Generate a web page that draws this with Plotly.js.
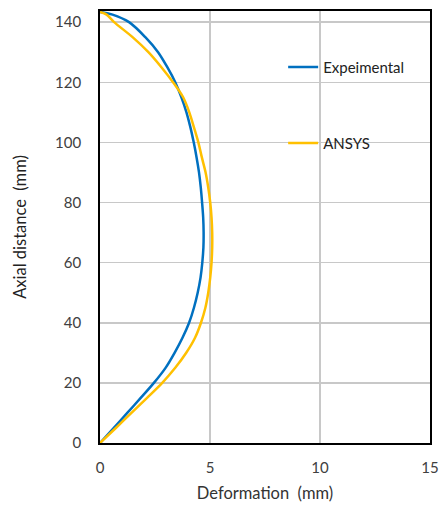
<!DOCTYPE html>
<html>
<head>
<meta charset="utf-8">
<script src="https://cdn.plot.ly/plotly-3.0.1.min.js"></script>
<style>html,body{margin:0;padding:0;background:#fff;}#chart{width:440px;height:507px;}</style>
</head>
<body>
<div id="chart"></div>
<script>
// Axial positions (mm) at which the curves were read
const axialPositions = [0, 5, 10, 15, 20, 25, 30, 35, 40, 45, 50, 55, 60, 65, 70, 75, 80, 85, 90, 95, 100, 105, 110, 115, 120, 125, 130, 135, 140, 142.5, 143.4];

// Experimental deformation (mm)
const expDeformation = [0, 0.62, 1.24, 1.85, 2.45, 2.98, 3.39, 3.75, 4.05, 4.27, 4.44, 4.57, 4.65, 4.70, 4.71, 4.69, 4.64, 4.58, 4.50, 4.39, 4.26, 4.11, 3.93, 3.70, 3.42, 3.06, 2.64, 2.06, 1.32, 0.57, 0];

// ANSYS deformation (mm)
const ansysDeformation = [0, 0.72, 1.43, 2.14, 2.83, 3.42, 3.92, 4.32, 4.59, 4.79, 4.92, 5.01, 5.07, 5.10, 5.10, 5.07, 5.01, 4.92, 4.80, 4.63, 4.47, 4.27, 4.06, 3.78, 3.32, 2.79, 2.20, 1.48, 0.64, 0.30, 0];

const seriesNames = ["Expeimental", "ANSYS"];
const xTicks = [0, 5, 10, 15];
const yTicks = [0, 20, 40, 60, 80, 100, 120, 140];

const font = "Lato, 'Open Sans', sans-serif";
const txt = "#404040";

const traces = [
  {x: expDeformation, y: axialPositions, name: seriesNames[0], type: "scatter", mode: "lines",
   line: {color: "#0070C0", width: 2.5, shape: "spline", smoothing: 0.9}, legend: "legend"},
  {x: ansysDeformation, y: axialPositions, name: seriesNames[1], type: "scatter", mode: "lines",
   line: {color: "#FFC000", width: 2.5, shape: "spline", smoothing: 0.8}, legend: "legend2"}
];

const layout = {
  width: 440, height: 507,
  margin: {l: 100, r: 9.5, t: 11, b: 64},
  paper_bgcolor: "#fff", plot_bgcolor: "#fff",
  font: {family: font, color: txt, size: 15},
  xaxis: {
    range: [0, 15], tickvals: xTicks, ticktext: xTicks.map(String),
    showgrid: true, gridcolor: "#c8c8c8", gridwidth: 1.5,
    zeroline: false, showline: true, linecolor: "#000", linewidth: 1.8, mirror: true,
    ticks: "", ticklabelstandoff: 10, tickfont: {size: 15, color: txt, family: font},
    title: {text: "Deformation  (mm)", font: {size: 16.5, color: "#333", family: font}, standoff: 13}
  },
  yaxis: {
    range: [0, 143.7], tickvals: yTicks, ticktext: yTicks.map(String),
    showgrid: true, gridcolor: "#c8c8c8", gridwidth: 1.5,
    zeroline: false, showline: true, linecolor: "#000", linewidth: 1.8, mirror: true,
    ticks: "", ticklabelstandoff: 14, tickfont: {size: 15, color: txt, family: font},
    title: {text: "Axial distance  (mm)", font: {size: 16.5, color: "#222", family: font}, standoff: 24}
  },
  showlegend: true,
  legend: {x: 0.555, y: 0.870, xanchor: "left", yanchor: "middle", bgcolor: "rgba(0,0,0,0)",
           font: {size: 15, color: "#222", family: font}},
  legend2: {x: 0.555, y: 0.694, xanchor: "left", yanchor: "middle", bgcolor: "rgba(0,0,0,0)",
           font: {size: 15, color: "#222", family: font}}
};

Plotly.newPlot("chart", traces, layout, {displayModeBar: false, staticPlot: true});
</script>
</body>
</html>
